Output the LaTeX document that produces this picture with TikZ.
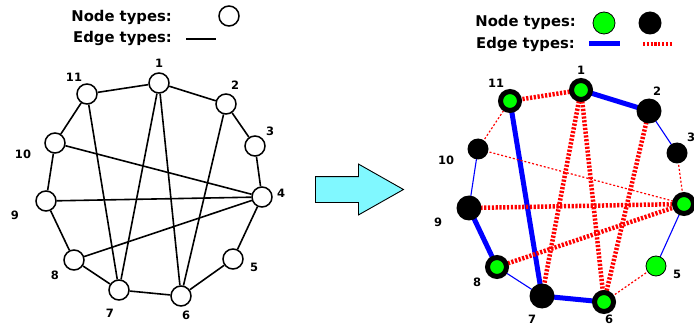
\documentclass[tikz,border=0pt]{standalone}
\usepackage{fontspec}
\setmainfont{DejaVu Sans}
\usetikzlibrary{shapes.arrows}
\definecolor{gfill}{RGB}{0,255,0}
\definecolor{bblue}{RGB}{0,0,255}
\definecolor{rred}{RGB}{255,0,0}
\definecolor{acyan}{RGB}{128,248,255}
\tikzset{
  wnode/.style={circle,draw=black,line width=1.5pt,fill=white,minimum size=20pt,inner sep=0pt},
  gbig/.style={circle,draw=black,line width=5pt,fill=gfill,minimum size=19pt,inner sep=0pt},
  gsmall/.style={circle,draw=black,line width=0.8pt,fill=gfill,minimum size=20pt,inner sep=0pt},
  bbig/.style={circle,fill=black,minimum size=25pt,inner sep=0pt},
  bsmall/.style={circle,fill=black,minimum size=21pt,inner sep=0pt},
  lab/.style={font=\bfseries\fontsize{11.5}{13}\selectfont,inner sep=0pt},
  legtxt/.style={font=\bfseries\fontsize{14.8}{17}\selectfont,inner sep=0pt,anchor=east},
  plain/.style={line width=1.6pt,black},
  bthick/.style={line width=5pt,bblue},
  bthin/.style={line width=1.1pt,bblue},
  rthick/.style={line width=4.5pt,rred,dash pattern=on 2.2pt off 1.6pt},
  rthin/.style={line width=1.2pt,rred,dash pattern=on 2pt off 2pt},
}
\begin{document}
\begin{tikzpicture}[x=1pt,y=-1pt]
\useasboundingbox (0,0) rectangle (694,326);
% ---------- left legend
\node[legtxt] (lnt) at (172,17) {Node types:};
\node[legtxt] (let) at (172,38) {Edge types:};
\node[wnode] (lleg) at (229,16) {};
\coordinate (lla) at (186,39);
\coordinate (llb) at (216,39);
\draw[line width=2.2pt] (lla) -- (llb);
% ---------- left graph nodes
\node[wnode] (L1) at (159,83) {};
\node[wnode] (L2) at (226,104) {};
\node[wnode] (L3) at (255,146) {};
\node[wnode] (L4) at (262,197) {};
\node[wnode] (L5) at (233,259) {};
\node[wnode] (L6) at (181,296) {};
\node[wnode] (L7) at (119,290) {};
\node[wnode] (L8) at (74,260) {};
\node[wnode] (L9) at (46,201) {};
\node[wnode] (L10) at (55,143) {};
\node[wnode] (L11) at (87,94) {};
\foreach \a/\b in {1/11,1/2,2/3,3/4,4/5,5/6,6/7,7/8,8/9,9/10,10/11,11/7,1/7,1/6,2/6,10/4,9/4,8/4}
  \draw[plain] (L\a) -- (L\b);
% left labels
\node[lab] (l1) at (159,63) {1};
\node[lab] (l2) at (235,85) {2};
\node[lab] (l3) at (270,131) {3};
\node[lab] (l4) at (281,193) {4};
\node[lab] (l5) at (254,267) {5};
\node[lab] (l6) at (186,315) {6};
\node[lab] (l7) at (110,313) {7};
\node[lab] (l8) at (55,275) {8};
\node[lab] (l9) at (15,215) {9};
\node[lab] (l10) at (23,154) {10};
\node[lab] (l11) at (74,77) {11};
% ---------- arrow
\node[single arrow,draw=black,line width=0.9pt,fill=acyan,minimum height=88pt,single arrow head extend=12.5pt,single arrow tip angle=59,inner sep=0pt,anchor=west] (arr) at (315,189.5) {\rule{0pt}{25pt}};
% ---------- right legend
\node[legtxt] (rnt) at (576,22) {Node types:};
\node[legtxt] (ret) at (575,44) {Edge types:};
\node[circle,draw=black,line width=0.8pt,fill=gfill,minimum size=22pt,inner sep=0pt] (rlg) at (604,23) {};
\node[circle,fill=black,minimum size=23pt,inner sep=0pt] (rlb) at (650,23) {};
\coordinate (rla) at (589,44);
\coordinate (rlb2) at (620,44);
\coordinate (rlc) at (643,44);
\coordinate (rld) at (672,44);
\draw[bthick] (rla) -- (rlb2);
\draw[line width=4pt,rred,dash pattern=on 2.2pt off 1.6pt] (rlc) -- (rld);
% ---------- right graph node positions
\coordinate (P1) at (581,90);
\coordinate (P2) at (649,111);
\coordinate (P3) at (677,153);
\coordinate (P4) at (684,204);
\coordinate (P5) at (656,266);
\coordinate (P6) at (604,302);
\coordinate (P7) at (542,296);
\coordinate (P8) at (497,267);
\coordinate (P9) at (469,208);
\coordinate (P10) at (478,149);
\coordinate (P11) at (510,101);
% right edges
\draw[rthick] (P1) -- (P11);
\draw[bthick] (P1) -- (P2);
\draw[bthin] (P2) -- (P3);
\draw[rthin] (P3) -- (P4);
\draw[bthin] (P4) -- (P5);
\draw[rthin] (P5) -- (P6);
\draw[bthick] (P6) -- (P7);
\draw[bthin] (P7) -- (P8);
\draw[bthick] (P8) -- (P9);
\draw[bthin] (P9) -- (P10);
\draw[rthin] (P10) -- (P11);
\draw[bthick] (P11) -- (P7);
\draw[rthick] (P1) -- (P7);
\draw[rthick] (P1) -- (P6);
\draw[rthick] (P2) -- (P6);
\draw[rthin] (P10) -- (P4);
\draw[rthick] (P9) -- (P4);
\draw[rthick] (P8) -- (P4);
% right nodes
\node[gbig] (R1) at (P1) {};
\node[bbig] (R2) at (P2) {};
\node[bsmall] (R3) at (P3) {};
\node[gbig] (R4) at (P4) {};
\node[gsmall] (R5) at (P5) {};
\node[gbig] (R6) at (P6) {};
\node[bbig] (R7) at (P7) {};
\node[gbig] (R8) at (P8) {};
\node[bbig] (R9) at (P9) {};
\node[bsmall] (R10) at (P10) {};
\node[gbig] (R11) at (P11) {};
% right labels
\node[lab] (r1) at (581,70) {1};
\node[lab] (r2) at (657,91) {2};
\node[lab] (r3) at (691,137) {3};
\node[lab] (r5) at (677,274) {5};
\node[lab] (r6) at (609,319) {6};
\node[lab] (r7) at (532,319) {7};
\node[lab] (r8) at (477,282) {8};
\node[lab] (r9) at (438,222) {9};
\node[lab] (r10) at (446,160) {10};
\node[lab] (r11) at (496,83) {11};
\end{tikzpicture}
\end{document}
